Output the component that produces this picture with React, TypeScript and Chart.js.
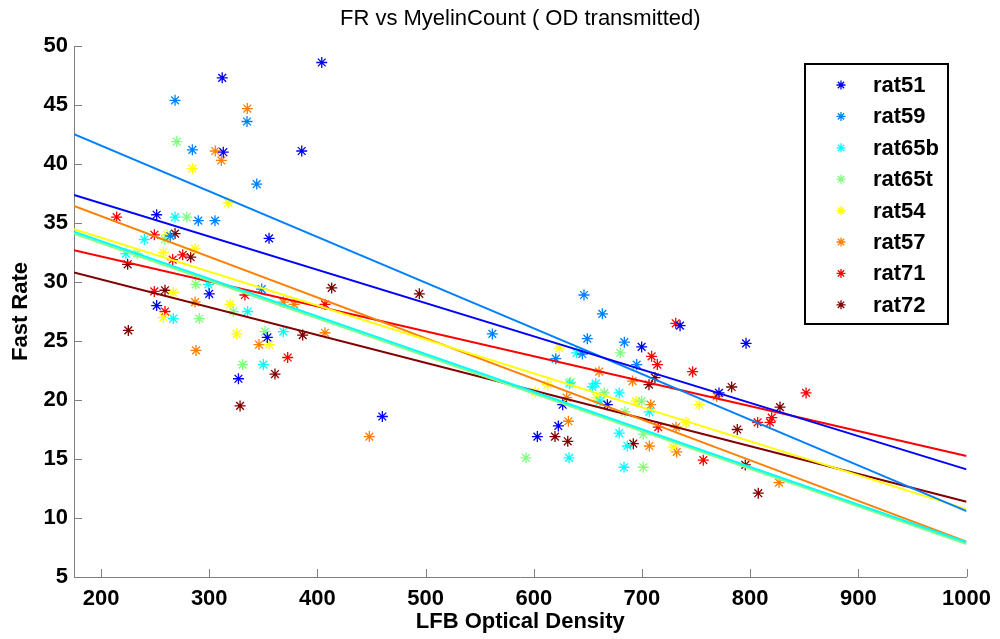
import React, { useEffect, useRef } from "react";
import { Chart, registerables } from "chart.js";

Chart.register(...registerables);

const chartTitle = "FR vs MyelinCount ( OD transmitted)";
const xAxisTitle = "LFB Optical Density";
const yAxisTitle = "Fast Rate";

const xTickValues = [200, 300, 400, 500, 600, 700, 800, 900, 1000];
const yTickValues = [5, 10, 15, 20, 25, 30, 35, 40, 45, 50];

const seriesNames = ["rat51", "rat59", "rat65b", "rat65t", "rat54", "rat57", "rat71", "rat72"];
const seriesColors = ["#0000ff", "#0080ff", "#00ffff", "#80ff80", "#ffff00", "#ff8000", "#ff0000", "#800000"];

// fitted line values at x = 175 and x = 1000
const fitX = [175, 1000];
const fitStartY = [37.37, 42.52, 34.27, 34.1, 34.47, 36.44, 32.7, 30.8];
const fitEndY = [14.12, 10.58, 7.95, 7.8, 10.75, 8.0, 15.25, 11.38];

const rat51X = [312, 404, 385.5, 313, 251.4, 355.3, 300, 251.4, 353.7, 327, 460, 626.7, 668, 622.7, 603.3, 735.2, 699.7, 771.2, 796.2];
const rat51Y = [47.3, 48.6, 41.1, 41.0, 35.7, 33.7, 29.0, 28.0, 25.3, 21.8, 18.6, 19.6, 19.6, 17.8, 16.9, 26.3, 24.5, 20.6, 24.8];

const rat59X = [268.4, 334.9, 284.4, 343.9, 289.9, 305.3, 264, 348.5, 561.7, 646.4, 663.4, 649.5, 644.9, 620.3, 683.7, 695.1];
const rat59Y = [45.4, 43.6, 41.2, 38.3, 35.2, 35.2, 33.9, 29.4, 25.6, 28.9, 27.3, 25.2, 23.9, 23.5, 24.9, 23.0];

const rat65bX = [268.4, 240, 223, 299.2, 266.8, 335.5, 350, 368.5, 639.6, 632.9, 657.3, 654.1, 679, 661.2, 632.6, 679, 706.8, 686.5, 683.4];
const rat65bY = [35.5, 33.6, 32.4, 29.8, 26.9, 27.5, 23.0, 25.8, 24.0, 21.4, 21.4, 21.1, 20.6, 19.9, 15.1, 17.2, 19.0, 16.1, 14.3];

const rat65tX = [270, 279.2, 259, 233.5, 287.5, 290.8, 322.3, 351.6, 330.9, 680, 634, 665.2, 699.7, 684.3, 592.8, 701.2, 701.2];
const rat65tY = [41.9, 35.5, 33.6, 32.4, 29.8, 26.9, 27.5, 25.8, 23.0, 24.0, 21.5, 20.6, 19.9, 19.0, 15.1, 17.1, 14.3];

const rat54X = [284.4, 317.6, 261, 257.6, 286.9, 266.8, 257.6, 319.2, 325.4, 355.5, 623.6, 612.8, 601.3, 658.1, 694.5, 753, 740.7, 729];
const rat54Y = [39.6, 36.7, 34.0, 32.5, 32.8, 29.1, 27.0, 28.1, 25.6, 24.7, 24.4, 21.3, 20.7, 20.2, 19.9, 19.6, 18.1, 16.0];

const rat57X = [335.2, 305.6, 311.2, 286.9, 287.8, 346, 368.5, 378.4, 407, 448, 660.3, 630.4, 632, 691.3, 769, 708.1, 731.5, 706.8, 732.1, 826.7];
const rat57Y = [44.7, 41.1, 40.3, 28.3, 24.2, 24.7, 28.3, 28.1, 25.7, 16.9, 22.4, 20.2, 18.2, 21.6, 20.3, 19.6, 17.7, 16.1, 15.6, 13.0];

const rat71X = [214.4, 249.3, 266.2, 275.5, 249.2, 259.1, 333, 407, 372.5, 731.2, 708.9, 714.2, 746.8, 715, 756.7, 806.9, 851.7, 819.9, 818.3];
const rat71Y = [35.5, 34.0, 31.9, 32.3, 29.2, 27.5, 28.9, 28.1, 23.6, 26.5, 23.7, 23.0, 22.4, 17.7, 14.9, 18.1, 20.6, 18.5, 18.1];

const rat72X = [268.4, 224.6, 282.9, 259.1, 225.2, 360.8, 328.5, 413.2, 494.2, 386.4, 619.6, 631.4, 712, 706.5, 782.9, 788.1, 692, 827.6, 807.5, 795.5];
const rat72Y = [34.1, 31.5, 32.1, 29.3, 25.9, 22.2, 19.5, 29.5, 29.0, 25.5, 16.9, 16.5, 21.9, 21.3, 21.1, 17.5, 16.3, 19.4, 12.1, 14.5];

const seriesX = [rat51X, rat59X, rat65bX, rat65tX, rat54X, rat57X, rat71X, rat72X];
const seriesY = [rat51Y, rat59Y, rat65bY, rat65tY, rat54Y, rat57Y, rat71Y, rat72Y];

const FONT = "'Liberation Sans', Arial, Helvetica, sans-serif";

const decorPlugin = {
  id: "decor",
  afterDraw(chart: any) {
    const ctx = chart.ctx as CanvasRenderingContext2D;
    const area = chart.chartArea;
    const xs = chart.scales.x;
    const ys = chart.scales.y;
    ctx.save();
    // inward ticks
    ctx.strokeStyle = "#808080";
    ctx.lineWidth = 1;
    ctx.beginPath();
    for (const v of yTickValues) {
      const y = Math.round(ys.getPixelForValue(v)) + 0.5;
      ctx.moveTo(area.left, y);
      ctx.lineTo(area.left + 8, y);
    }
    for (const v of xTickValues) {
      const x = Math.round(xs.getPixelForValue(v)) + 0.5;
      ctx.moveTo(x, area.bottom);
      ctx.lineTo(x, area.bottom - 8);
    }
    ctx.stroke();

    // title
    ctx.fillStyle = "#000";
    ctx.textAlign = "center";
    ctx.textBaseline = "middle";
    ctx.font = `22px ${FONT}`;
    ctx.fillText(chartTitle, (area.left + area.right) / 2, 19);

    // axis titles
    ctx.font = `bold 22px ${FONT}`;
    ctx.fillText(xAxisTitle, (area.left + area.right) / 2, 622);
    ctx.save();
    ctx.translate(21, (area.top + area.bottom) / 2);
    ctx.rotate(-Math.PI / 2);
    ctx.fillText(yAxisTitle, 0, 0);
    ctx.restore();

    // legend
    const bx = 805, by = 64, bw = 143, bh = 260;
    ctx.fillStyle = "#fff";
    ctx.fillRect(bx, by, bw, bh);
    ctx.strokeStyle = "#000";
    ctx.lineWidth = 2;
    ctx.strokeRect(bx, by, bw, bh);
    ctx.font = `bold 22px ${FONT}`;
    ctx.textAlign = "left";
    seriesNames.forEach((name, i) => {
      const cy = 85 + i * 31.4;
      ctx.fillStyle = "#000";
      ctx.fillText(name, 873, cy + 1);
      ctx.strokeStyle = seriesColors[i];
      ctx.lineWidth = 1.3;
      const r = 4.5;
      ctx.beginPath();
      for (let k = 0; k < 4; k++) {
        const a = (k * Math.PI) / 4;
        ctx.moveTo(841 - r * Math.cos(a), cy - r * Math.sin(a));
        ctx.lineTo(841 + r * Math.cos(a), cy + r * Math.sin(a));
      }
      ctx.stroke();
    });
    ctx.restore();
  },
};

export default function App() {
  const ref = useRef<HTMLCanvasElement | null>(null);
  useEffect(() => {
    if (!ref.current) return;
    const datasets: any[] = [];
    seriesNames.forEach((name, i) => {
      datasets.push({
        label: name + " fit",
        type: "line",
        data: fitX.map((x, k) => ({ x, y: k === 0 ? fitStartY[i] : fitEndY[i] })),
        borderColor: seriesColors[i],
        borderWidth: 2,
        pointRadius: 0,
        fill: false,
        order: 0,
      });
    });
    seriesNames.forEach((name, i) => {
      datasets.push({
        label: name,
        type: "scatter",
        data: seriesX[i].map((x, k) => ({ x, y: seriesY[i][k] })),
        borderColor: seriesColors[i],
        backgroundColor: seriesColors[i],
        pointStyle: "star",
        pointRadius: 5.5,
        borderWidth: 1.3,
        order: 1,
      });
    });
    const chart = new Chart(ref.current, {
      type: "scatter",
      data: { datasets },
      options: {
        animation: false,
        responsive: false,
        devicePixelRatio: 1,
        layout: { padding: { top: 46, right: 33, left: 0, bottom: 0 } },
        scales: {
          x: {
            type: "linear",
            min: 175,
            max: 1000,
            afterFit: (s: any) => {
              s.height = 62;
            },
            afterBuildTicks: (s: any) => {
              s.ticks = xTickValues.map((v) => ({ value: v }));
            },
            grid: { display: true, drawOnChartArea: false, drawTicks: false },
            border: { display: true, color: "#808080", width: 1 },
            ticks: {
              padding: 9,
              color: "#000",
              maxRotation: 0,
              autoSkip: false,
              callback: (v: any) => String(v),
              font: { family: FONT, size: 22, weight: "bold" },
            },
          },
          y: {
            type: "linear",
            min: 5,
            max: 50,
            afterFit: (s: any) => {
              s.width = 74;
            },
            afterBuildTicks: (s: any) => {
              s.ticks = yTickValues.map((v) => ({ value: v }));
            },
            grid: { display: true, drawOnChartArea: false, drawTicks: false },
            border: { display: true, color: "#808080", width: 1 },
            ticks: {
              padding: 6,
              color: "#000",
              autoSkip: false,
              callback: (v: any) => String(v),
              font: { family: FONT, size: 22, weight: "bold" },
            },
          },
        },
        plugins: {
          legend: { display: false },
          tooltip: { enabled: false },
          title: { display: false },
        },
      },
      plugins: [decorPlugin],
    } as any);
    return () => chart.destroy();
  }, []);
  return (
    <div style={{ position: "absolute", left: 0, top: 0, width: 1000, height: 639, background: "#fff" }}>
      <canvas ref={ref} width={1000} height={639} style={{ width: 1000, height: 639, display: "block" }} />
    </div>
  );
}
